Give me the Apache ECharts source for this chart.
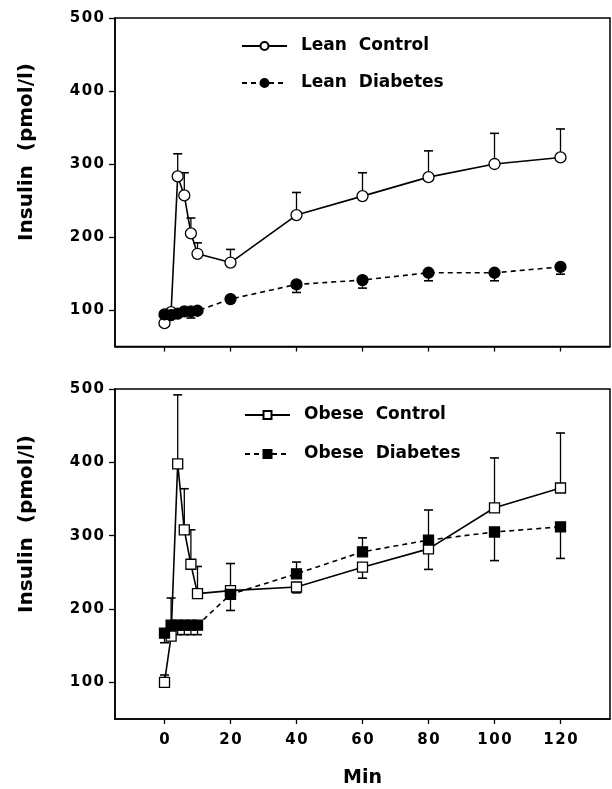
<!DOCTYPE html>
<html>
<head>
<meta charset="utf-8">
<script src="https://cdn.jsdelivr.net/npm/echarts@6/dist/echarts.min.js"></script>
<style>
  html, body { margin: 0; padding: 0; background: #fff; }
  #chart { width: 612px; height: 789px; }
</style>
</head>
<body>
<div id="chart"></div>
<script>
// ---- data ----
const times = [0, 2, 4, 6, 8, 10, 20, 40, 60, 80, 100, 120];
const xTicks = [0, 20, 40, 60, 80, 100, 120];
const yTicks = [100, 200, 300, 400, 500];

const leanControl      = [82, 97, 283, 257, 205, 177, 165, 230, 256, 282, 300, 309];
const leanControlErr   = [null, null, 314, 288, 226, 192, 183, 261, 288, 318, 342, 348];
const leanDiabetes     = [94, 93, 95, 98, 98, 99, 115, 135, 141, 151, 151, 159];
const leanDiabetesErr  = [null, null, null, null, 89, null, null, 124, 130, 140, 140, 149];

const obeseControl     = [100, 163, 398, 308, 261, 221, 225, 230, 257, 282, 338, 365];
const obeseControlErr  = [110, 215, 492, 364, 308, 258, 262, 222, 242, 335, 406, 440];
const obeseDiabetes    = [167, 178, 178, 178, 178, 178, 220, 248, 278, 294, 305, 312];
const obeseDiabetesErr = [154, 165, 165, 165, 165, 165, 198, 264, 297, 254, 266, 269];

// ---- helpers ----
const FONT = 'DejaVu Sans';
const spaced = v => String(v).split('').join('\u200A');
const pairs = vals => times.map((t, i) => [t, vals[i]]);
const errData = (vals, errs) => times.map((t, i) => errs[i] == null ? null : [t, vals[i], errs[i]]).filter(Boolean);

function errRender(params, api) {
  const x = api.value(0), y = api.value(1), e = api.value(2);
  const p0 = api.coord([x, y]);
  const p1 = api.coord([x, e]);
  const w = 4.5;
  return {
    type: 'group',
    children: [
      { type: 'line', shape: { x1: p0[0], y1: p0[1], x2: p1[0], y2: p1[1] }, style: { stroke: '#000', lineWidth: 1.3 } },
      { type: 'line', shape: { x1: p1[0] - w, y1: p1[1], x2: p1[0] + w, y2: p1[1] }, style: { stroke: '#000', lineWidth: 1.6 } }
    ]
  };
}

function xAxisFor(gridIndex, showLabels) {
  return {
    type: 'value', gridIndex, min: -15, max: 135,
    axisLine: { show: true, onZero: false, lineStyle: { color: '#000', width: 1.5 } },
    axisTick: { show: true, customValues: xTicks, length: 5, inside: false, lineStyle: { color: '#000', width: 1.3 } },
    axisLabel: { show: showLabels, customValues: xTicks, formatter: spaced, margin: 14,
      fontFamily: FONT, fontWeight: 'bold', fontSize: 15, color: '#000' },
    splitLine: { show: false },
    name: showLabels ? 'Min' : '', nameLocation: 'middle', nameGap: 50,
    nameTextStyle: { fontFamily: FONT, fontWeight: 'bold', fontSize: 19, color: '#000' }
  };
}
function yAxisFor(gridIndex) {
  return {
    type: 'value', gridIndex, min: 50, max: 500,
    axisLine: { show: true, onZero: false, lineStyle: { color: '#000', width: 1.5 } },
    axisTick: { show: true, customValues: yTicks, length: 6, inside: false, lineStyle: { color: '#000', width: 1.3 } },
    axisLabel: { show: true, customValues: yTicks, formatter: spaced, margin: 11,
      fontFamily: FONT, fontWeight: 'bold', fontSize: 15, color: '#000' },
    splitLine: { show: false }
  };
}

function lineSeries(name, vals, gi, symbol, filled, dashed) {
  return {
    name, type: 'line', xAxisIndex: gi, yAxisIndex: gi,
    data: pairs(vals),
    symbol, symbolSize: symbol === 'rect' ? 10 : 11,
    showSymbol: true, animation: false, z: 5,
    lineStyle: { color: '#000', width: 1.6, type: dashed ? [5, 4] : 'solid' },
    itemStyle: { color: filled ? '#000' : '#fff', borderColor: '#000', borderWidth: 1.3 }
  };
}
function errSeries(vals, errs, gi) {
  return {
    type: 'custom', xAxisIndex: gi, yAxisIndex: gi,
    data: errData(vals, errs), renderItem: errRender,
    encode: { x: 0, y: [1, 2] }, animation: false, z: 3, silent: true
  };
}

const legendText = { fontFamily: FONT, fontWeight: 'bold', fontSize: 17, color: '#000', lineHeight: 20, padding: [0, 0, 0, 9] };

const option = {
  backgroundColor: '#fff',
  animation: false,
  grid: [
    { left: 115, top: 18, width: 495, height: 328.5, show: true, borderColor: '#000', borderWidth: 1.5, containLabel: false },
    { left: 115, top: 389, width: 495, height: 330, show: true, borderColor: '#000', borderWidth: 1.5, containLabel: false }
  ],
  xAxis: [xAxisFor(0, false), xAxisFor(1, true)],
  yAxis: [yAxisFor(0), yAxisFor(1)],
  legend: [
    { data: ['Lean Control', 'Lean Diabetes'], orient: 'vertical', left: 236, top: 31,
      itemWidth: 45, itemHeight: 10, itemGap: 17, selectedMode: false,
      formatter: n => n.replace(' ', '  '), textStyle: legendText },
    { data: ['Obese Control', 'Obese Diabetes'], orient: 'vertical', left: 239, top: 400,
      itemWidth: 45, itemHeight: 10, itemGap: 19, selectedMode: false,
      formatter: n => n.replace(' ', '  '), textStyle: legendText }
  ],
  graphic: [
    { type: 'text', x: 27, y: 152, rotation: Math.PI / 2,
      style: { text: 'Insulin  (pmol/l)', font: 'bold 20px "DejaVu Sans"', fill: '#000', textAlign: 'center', textVerticalAlign: 'middle' } },
    { type: 'text', x: 27, y: 524, rotation: Math.PI / 2,
      style: { text: 'Insulin  (pmol/l)', font: 'bold 20px "DejaVu Sans"', fill: '#000', textAlign: 'center', textVerticalAlign: 'middle' } }
  ],
  series: [
    errSeries(leanControl, leanControlErr, 0),
    errSeries(leanDiabetes, leanDiabetesErr, 0),
    errSeries(obeseControl, obeseControlErr, 1),
    errSeries(obeseDiabetes, obeseDiabetesErr, 1),
    lineSeries('Lean Control', leanControl, 0, 'circle', false, false),
    lineSeries('Lean Diabetes', leanDiabetes, 0, 'circle', true, true),
    lineSeries('Obese Control', obeseControl, 1, 'rect', false, false),
    lineSeries('Obese Diabetes', obeseDiabetes, 1, 'rect', true, true)
  ]
};

const chart = echarts.init(document.getElementById('chart'), null, { renderer: 'canvas' });
chart.setOption(option);
</script>
</body>
</html>
